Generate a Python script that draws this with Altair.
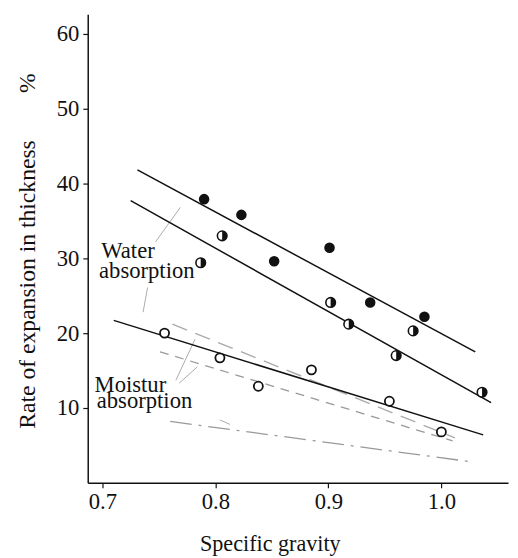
import altair as alt
import pandas as pd

FONT = "Liberation Serif"

# --- data ---
filled_x = [0.790, 0.823, 0.852, 0.901, 0.937, 0.985]
filled_y = [37.9, 35.8, 29.6, 31.4, 24.1, 22.2]

half_x = [0.787, 0.806, 0.902, 0.918, 0.960, 0.975, 1.036]
half_y = [29.4, 33.0, 24.1, 21.2, 17.0, 20.3, 12.1]

open_x = [0.755, 0.804, 0.838, 0.885, 0.954, 1.000]
open_y = [20.0, 16.7, 12.9, 15.1, 10.9, 6.8]

# regression lines: (x_start, y_start, x_end, y_end)
line_names = ["water_upper", "water_lower", "moist_solid", "moist_dash1", "moist_dash2", "moist_dashdot"]
line_x0 = [0.731, 0.725, 0.710, 0.762, 0.751, 0.760]
line_y0 = [41.8, 37.7, 21.7, 21.2, 17.5, 8.2]
line_x1 = [1.030, 1.044, 1.037, 1.012, 1.010, 1.027]
line_y1 = [17.5, 10.7, 6.4, 6.0, 5.6, 2.8]

# annotation labels
label_text = ["Water", "absorption", "Moistur", "absorption"]
label_x = [0.699, 0.697, 0.693, 0.695]
label_y = [30.0, 27.4, 12.2, 10.0]

# pointer strokes from the labels to the lines
arrow_x0 = [0.747, 0.740, 0.765, 0.768, 0.804]
arrow_y0 = [32.2, 26.1, 13.7, 13.3, 8.4]
arrow_x1 = [0.769, 0.736, 0.782, 0.784, 0.813]
arrow_y1 = [36.8, 22.8, 19.2, 15.5, 7.8]

x_ticks = [0.7, 0.8, 0.9, 1.0]
y_ticks = [10, 20, 30, 40, 50, 60]

# --- tables ---
filled = pd.DataFrame({"x": filled_x, "y": filled_y})
half = pd.DataFrame({"x": half_x, "y": half_y})
opn = pd.DataFrame({"x": open_x, "y": open_y})

rows = []
for n, a, b, c, d in zip(line_names, line_x0, line_y0, line_x1, line_y1):
    rows.append({"line": n, "x": a, "y": b})
    rows.append({"line": n, "x": c, "y": d})
lines = pd.DataFrame(rows)

arr_rows = []
for i, (a, b, c, d) in enumerate(zip(arrow_x0, arrow_y0, arrow_x1, arrow_y1)):
    arr_rows.append({"id": i, "x": a, "y": b})
    arr_rows.append({"id": i, "x": c, "y": d})
arrows = pd.DataFrame(arr_rows)

labels = pd.DataFrame({"t": label_text, "x": label_x, "y": label_y})

xs = alt.Scale(domain=[0.687, 1.059], nice=False, zero=False)
ys = alt.Scale(domain=[0, 62.6], nice=False, zero=False)

x_axis = alt.Axis(
    values=x_ticks, format=".1f", grid=False, tickSize=5, labelPadding=3,
    labelFont=FONT, labelFontSize=23, labelColor="#111",
    domainColor="#111", tickColor="#111", domainWidth=1.5, tickWidth=1.2,
    title="Specific gravity", titleFont=FONT, titleFontSize=22.5, titleFontWeight="normal",
    titleColor="#111", titleX=185, titleY=69, titleBaseline="alphabetic",
)
y_axis = alt.Axis(
    values=y_ticks, grid=False, tickSize=5, labelPadding=4,
    labelFont=FONT, labelFontSize=23, labelColor="#111",
    domainColor="#111", tickColor="#111", domainWidth=1.5, tickWidth=1.2,
    title="Rate of expansion in thickness" + "\u00a0" * 8 + "%",
    titleFont=FONT, titleFontSize=24, titleFontWeight="normal", titleColor="#111",
    titleX=-54, titleY=240, titleBaseline="alphabetic",
)

X = alt.X("x:Q", scale=xs, axis=x_axis)
Y = alt.Y("y:Q", scale=ys, axis=y_axis)
Xn = alt.X("x:Q", scale=xs)
Yn = alt.Y("y:Q", scale=ys)


def line_layer(name, **kw):
    return alt.Chart(lines).transform_filter(alt.datum.line == name).mark_line(**kw).encode(
        x=Xn, y=Yn, order="x:Q")


base = alt.Chart(lines).mark_line(opacity=0).encode(x=X, y=Y, detail="line:N")

l_wu = line_layer("water_upper", color="#111", strokeWidth=1.5)
l_wl = line_layer("water_lower", color="#111", strokeWidth=1.5)
l_ms = line_layer("moist_solid", color="#111", strokeWidth=1.5)
l_d1 = line_layer("moist_dash1", color="#aaa", strokeWidth=1.4, strokeDash=[16, 9])
l_d2 = line_layer("moist_dash2", color="#999", strokeWidth=1.3, strokeDash=[9, 7])
l_dd = line_layer("moist_dashdot", color="#999", strokeWidth=1.3, strokeDash=[22, 7, 3, 7])

arr = alt.Chart(arrows).mark_line(color="#aaa", strokeWidth=1).encode(x=Xn, y=Yn, detail="id:N")

p_f = alt.Chart(filled).mark_point(shape="circle", filled=True, size=115, color="#111", opacity=1).encode(x=Xn, y=Yn)
p_o = alt.Chart(opn).mark_point(shape="circle", filled=True, fill="white", stroke="#111", strokeWidth=1.8,
                                size=85, opacity=1).encode(x=Xn, y=Yn)
p_h1 = alt.Chart(half).mark_point(shape="circle", filled=True, fill="white", stroke="#111", strokeWidth=1.6,
                                  size=95, opacity=1).encode(x=Xn, y=Yn)
p_h2 = alt.Chart(half).mark_point(shape="M 0 -1 A 1 1 0 0 1 0 1 Z", filled=True, color="#111",
                                  size=95, opacity=1).encode(x=Xn, y=Yn)

txt = alt.Chart(labels).mark_text(font=FONT, fontSize=23, align="left", baseline="alphabetic",
                                  color="#111").encode(x=Xn, y=Yn, text="t:N")

chart = alt.layer(base, l_d1, l_d2, l_dd, arr, l_wu, l_wl, l_ms, p_f, p_o, p_h1, p_h2, txt).properties(
    width=427, height=476,
    autosize=alt.AutoSizeParams(type="none"),
    padding={"left": 81, "top": 2, "right": 2, "bottom": 72},
).configure_view(stroke=None).configure_axisX(domain=True).configure_axisY(domain=True)

chart.save("out.html", embed_options={"renderer": "svg", "actions": False})
